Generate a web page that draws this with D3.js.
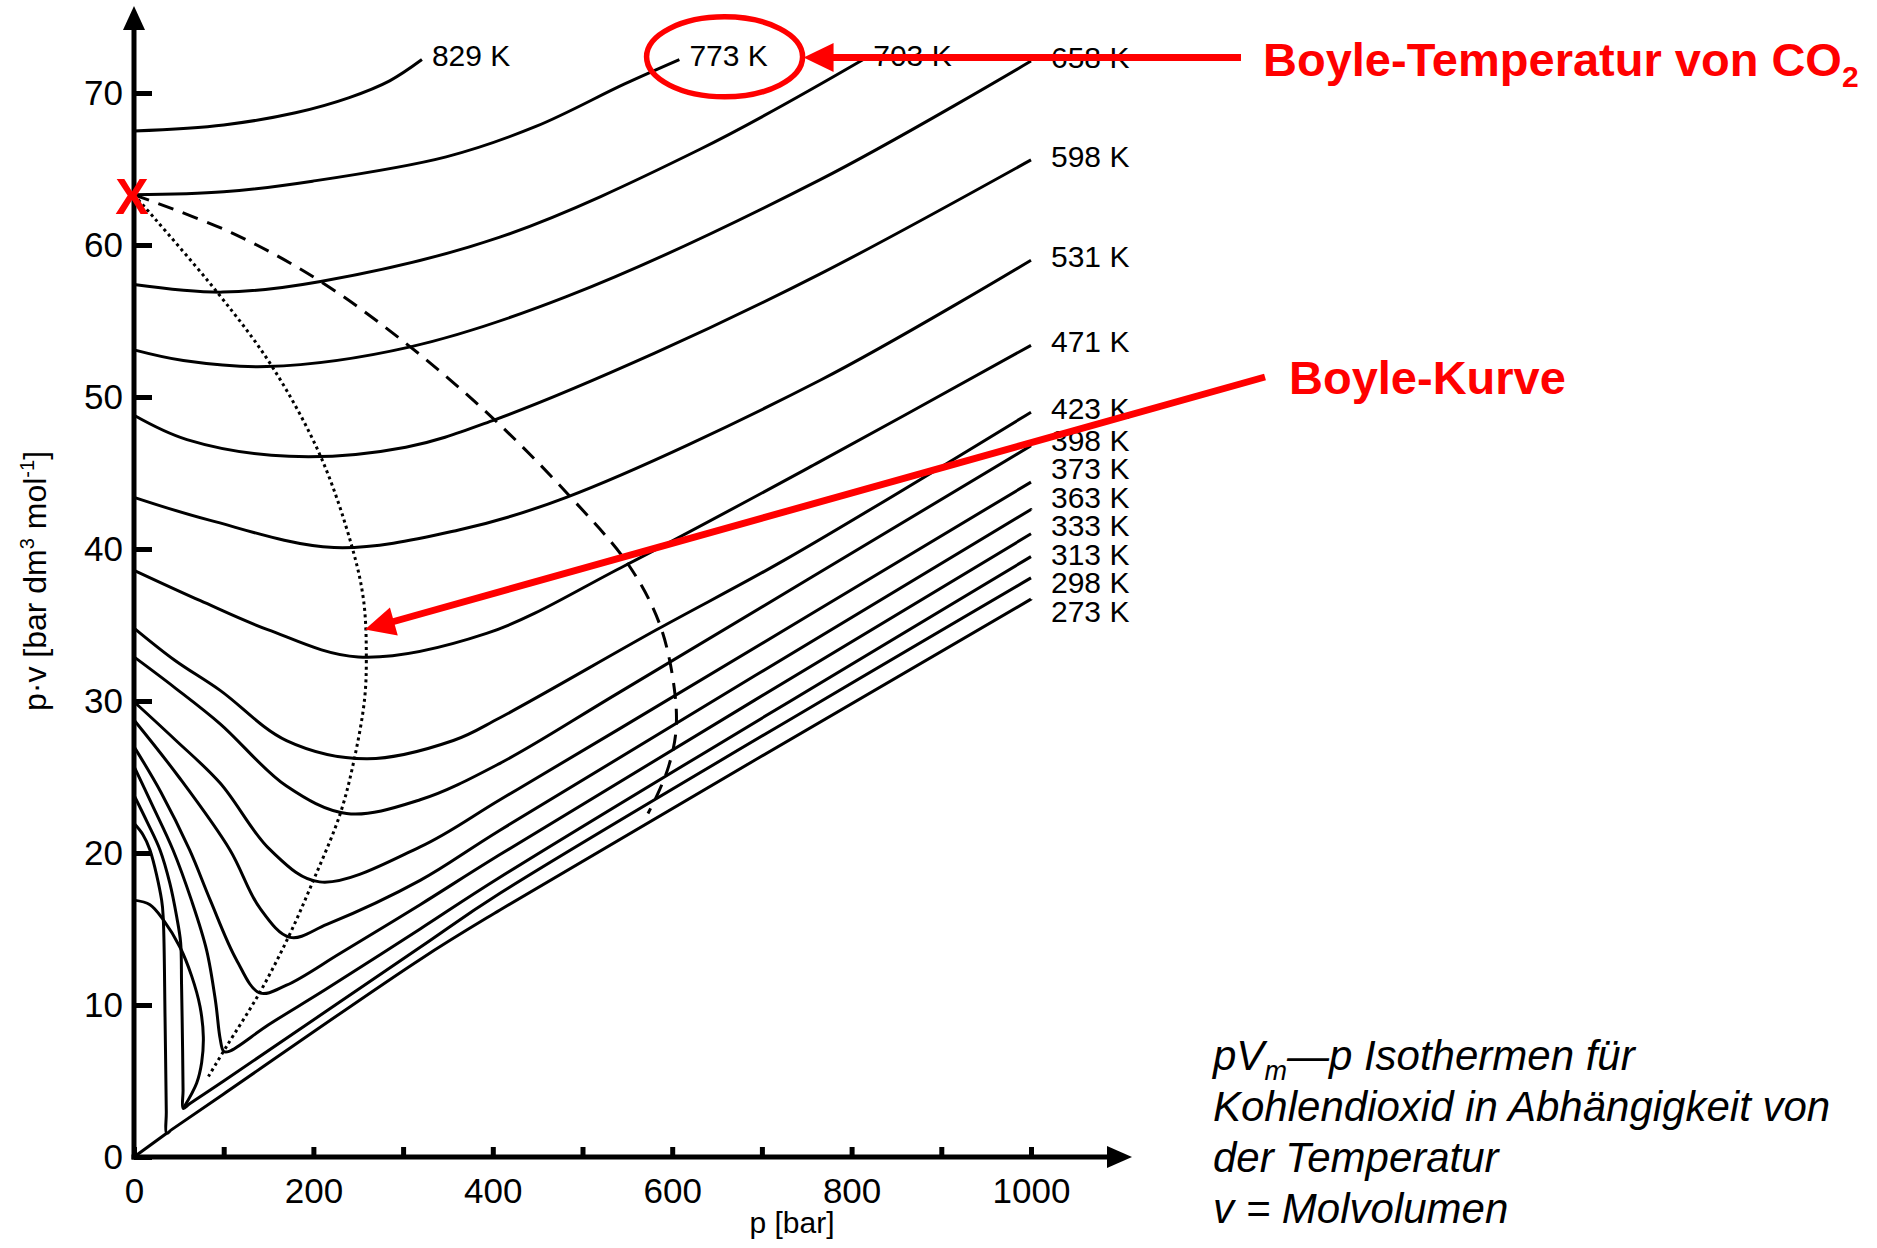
<!DOCTYPE html>
<html>
<head>
<meta charset="utf-8">
<script src="https://cdn.jsdelivr.net/npm/d3@7"></script>
<style>
  body { margin: 0; background: #fff; }
  svg { display: block; font-family: "Liberation Sans", Arial, sans-serif; }
</style>
</head>
<body>
<div id="chart"></div>
<script>
// isotherms of CO2: [p in bar, p*v in bar dm3/mol]
const temps = [829, 773, 703, 658, 598, 531, 471, 423, 398, 373, 363, 333, 313, 298, 273];

const iso829 = [[0, 67.5], [100, 67.9], [180, 68.7], [240, 69.7], [285, 70.8], [321, 72.2]];
const iso773 = [[0, 63.3], [100, 63.5], [199, 64.2], [348, 65.8], [448, 67.8], [547, 70.6], [608, 72.2]];
const iso703 = [[0, 57.4], [99, 56.9], [208, 57.6], [407, 60.5], [631, 66.3], [813, 72.2]];
const iso658 = [[0, 53.1], [55, 52.4], [148, 52.0], [308, 53.3], [482, 56.6], [765, 64.3], [1000, 72.1]];
const iso598 = [[0, 48.8], [59, 47.2], [173, 46.1], [303, 46.7], [402, 48.5], [581, 52.9], [765, 58.1], [1000, 65.6]];
const iso531 = [[0, 43.4], [84, 41.9], [223, 40.1], [362, 41.25], [482, 43.4], [765, 51.1], [1000, 59.0]];
const iso471 = [[0, 38.6], [74, 36.6], [149, 34.7], [250, 32.9], [393, 34.45], [547, 38.9], [760, 45.6], [1000, 53.4]];
const iso423 = [[0, 34.8], [45, 32.7], [96, 30.7], [170, 27.4], [259, 26.2], [356, 27.4], [408, 28.9], [583, 34.7], [726, 39.3], [1000, 49.0]];
const iso398 = [[0, 32.9], [45, 30.9], [96, 28.5], [170, 24.4], [237, 22.6], [319, 23.5], [408, 25.9], [542, 30.6], [1000, 46.8]];
const iso373 = [[0, 29.95], [45, 27.5], [96, 24.6], [152, 20.2], [207, 18.1], [319, 20.4], [408, 23.5], [542, 28.2], [1000, 44.4]];
const iso363 = [[0, 28.75], [50, 25.0], [107, 20.2], [140, 16.4], [174, 14.45], [215, 15.3], [319, 18.2], [408, 21.5], [1000, 42.6]];
const iso333 = [[0, 27.0], [30, 24.0], [62, 20.2], [85, 16.9], [114, 13.0], [140, 10.8], [170, 11.3], [230, 13.4], [319, 16.6], [408, 19.9], [1000, 41.0]];
const iso313 = [[0, 25.7], [20, 23.2], [43.5, 20.2], [64, 16.9], [81, 13.6], [91, 10.2], [96, 7.8], [100, 6.95], [106, 6.95], [150, 8.7], [213, 11.0], [319, 15.0], [408, 18.4], [1000, 39.5]];
const iso298 = [[0, 23.8], [15, 22.0], [29, 20.2], [40, 18.0], [47.6, 15.8], [52, 14.1], [53, 11.4], [54.2, 7.0], [54.7, 4.4], [54.9, 3.2], [62, 3.5], [100, 5.0], [319, 13.8], [408, 17.35], [1000, 38.1]];
const iso273 = [[0, 21.95], [10, 21.2], [17.8, 20.2], [30.8, 16.9], [32.7, 15.6], [34.6, 9.2], [36.0, 3.0], [36.4, 1.56], [42, 1.8], [100, 4.15], [319, 13.0], [408, 16.25], [1000, 36.7]];

// two-phase boundary and the liquid line from the origin
const phaseDome = [[0, 16.9], [17.8, 16.6], [32.7, 15.6], [51.3, 13.8], [64.3, 11.9], [73.6, 9.9], [77.3, 7.9], [75.4, 6.2], [69.8, 4.85], [55.5, 3.25]];
const liquidLine = [[0, 0], [36.4, 1.56]];

// Boyle curve (dotted) and the dashed curve
const boyleCurve = [[0, 63.3], [94, 56.8], [154, 52.0], [208, 46.1], [243, 40.15], [256, 36.6], [259, 32.9], [257, 30.1], [246, 26.3], [230, 22.6], [200, 18.2], [172, 14.45], [140, 10.8], [103, 7.26], [83, 5.3]];
const dashedCurve = [[0, 63.3], [109, 60.8], [208, 57.6], [308, 53.3], [402, 48.5], [487, 43.4], [552, 38.9], [587, 34.9], [603, 30.5], [604, 27.9], [596, 25.7], [584, 23.9], [573, 22.6]];

const xTicks = [0, 100, 200, 300, 400, 500, 600, 700, 800, 900, 1000];
const yTicks = [0, 10, 20, 30, 40, 50, 60, 70];
const boyleTemp = 773;
const boyleArrowPoint = [257.5, 34.7];

const isotherms = temps.map((t, i) => ({
  T: t,
  pts: [iso829, iso773, iso703, iso658, iso598, iso531, iso471, iso423, iso398, iso373, iso363, iso333, iso313, iso298, iso273][i],
}));

function drawChart(id) {
  const w = 1877;
  const h = 1248;

  const svg = d3
    .select(`#${id}`)
    .append("svg")
    .attr("width", w)
    .attr("height", h)
    .attr("viewBox", [0, 0, w, h]);

  const x = d3.scaleLinear().domain([0, 1000]).range([134, 1031]);
  const y = d3.scaleLinear().domain([0, 70]).range([1157, 93]);

  const line = d3
    .line()
    .x((d) => x(d[0]))
    .y((d) => y(d[1]))
    .curve(d3.curveCatmullRom.alpha(0.5));

  // isotherms
  svg
    .append("g")
    .selectAll("path")
    .data(isotherms)
    .enter()
    .append("path")
    .attr("d", (d) => line(d.pts))
    .attr("fill", "none")
    .attr("stroke", "#000")
    .attr("stroke-width", 3);

  // phase boundary
  svg
    .append("g")
    .selectAll("path")
    .data([phaseDome, liquidLine])
    .enter()
    .append("path")
    .attr("d", line)
    .attr("fill", "none")
    .attr("stroke", "#000")
    .attr("stroke-width", 3);

  svg
    .append("path")
    .attr("d", line(dashedCurve))
    .attr("fill", "none")
    .attr("stroke", "#000")
    .attr("stroke-width", 3)
    .attr("stroke-dasharray", "16,10");

  svg
    .append("path")
    .attr("d", line(boyleCurve))
    .attr("fill", "none")
    .attr("stroke", "#000")
    .attr("stroke-width", 3)
    .attr("stroke-dasharray", "3,3.5");

  // axes
  const yAxis = d3
    .axisLeft(y)
    .tickValues(yTicks)
    .tickSizeInner(-18)
    .tickSizeOuter(0)
    .tickPadding(11);
  const xAxis = d3
    .axisBottom(x)
    .tickValues(xTicks)
    .tickSizeInner(-10)
    .tickSizeOuter(0)
    .tickPadding(21)
    .tickFormat((d) => (d % 200 === 0 ? d : ""));

  const gy = svg.append("g").attr("transform", `translate(${x(0)},0)`).call(yAxis);
  const gx = svg.append("g").attr("transform", `translate(0,${y(0)})`).call(xAxis);
  [gx, gy].forEach((g) => {
    g.select(".domain").remove();
    g.selectAll(".tick line").attr("stroke", "#000").attr("stroke-width", 5);
    g.selectAll(".tick text")
      .attr("font-size", 35)
      .attr("font-family", "Liberation Sans, Arial, sans-serif")
      .attr("fill", "#000");
  });

  // axis lines with arrows
  svg
    .append("line")
    .attr("x1", x(0)).attr("y1", y(0) + 2.5)
    .attr("x2", x(0)).attr("y2", 22)
    .attr("stroke", "#000").attr("stroke-width", 5);
  svg
    .append("path")
    .attr("d", `M${x(0)},6 L${x(0) - 11},30 L${x(0) + 11},30 Z`)
    .attr("fill", "#000");
  svg
    .append("line")
    .attr("x1", x(0) - 2.5).attr("y1", y(0))
    .attr("x2", 1112).attr("y2", y(0))
    .attr("stroke", "#000").attr("stroke-width", 5);
  svg
    .append("path")
    .attr("d", `M1132,${y(0)} L1107,${y(0) - 11} L1107,${y(0) + 11} Z`)
    .attr("fill", "#000");

  // axis titles
  const yt = svg
    .append("text")
    .attr("transform", "translate(46,581) rotate(-90)")
    .attr("text-anchor", "middle")
    .attr("font-size", 32)
    .attr("fill", "#000");
  yt.append("tspan").text("p·v [bar dm");
  yt.append("tspan").attr("font-size", 20).attr("dy", -12).text("3");
  yt.append("tspan").attr("dy", 12).text(" mol");
  yt.append("tspan").attr("font-size", 20).attr("dy", -12).text("-1");
  yt.append("tspan").attr("dy", 12).text("]");

  svg
    .append("text")
    .attr("x", 792)
    .attr("y", 1233)
    .attr("text-anchor", "middle")
    .attr("font-size", 30)
    .attr("fill", "#000")
    .text("p [bar]");

  // temperature labels
  const labels = isotherms.map((d) => {
    const end = d.pts[d.pts.length - 1];
    const right = end[0] >= 990;
    return {
      T: d.T,
      right: right,
      lx: right ? x(1000) + 20 : x(end[0]) + 10,
      ly: y(end[1]) - 4,
    };
  });
  const col = labels.filter((d) => d.right).sort((a, b) => a.ly - b.ly);
  for (let k = 0; k < 300; k++) {
    let moved = false;
    for (let i = 1; i < col.length; i++) {
      const gap = col[i].ly - col[i - 1].ly;
      if (gap < 28.5) {
        const s = (28.5 - gap) / 2;
        col[i - 1].ly -= s;
        col[i].ly += s;
        moved = true;
      }
    }
    if (!moved) break;
  }

  const lbl = svg
    .append("g")
    .selectAll("text")
    .data(labels)
    .enter()
    .append("text")
    .attr("x", (d) => d.lx)
    .attr("y", (d) => d.ly)
    .attr("dy", "0.36em")
    .attr("font-size", 30)
    .attr("fill", "#000")
    .text((d) => `${d.T} K`);

  // red annotations
  const red = "#ff0000";
  const boyleLbl = lbl.filter((d) => d.T === boyleTemp).node().getBBox();
  const ex = boyleLbl.x + boyleLbl.width / 2 - 4;
  const ey = boyleLbl.y + boyleLbl.height / 2 + 1;
  svg
    .append("ellipse")
    .attr("cx", ex).attr("cy", ey)
    .attr("rx", 78).attr("ry", 40)
    .attr("fill", "none")
    .attr("stroke", red)
    .attr("stroke-width", 5.5);

  function arrow(x1, y1, x2, y2) {
    const dx = x2 - x1;
    const dy = y2 - y1;
    const len = Math.hypot(dx, dy);
    const ux = dx / len;
    const uy = dy / len;
    const hl = 30;
    const hw = 14.5;
    const bx = x2 - ux * hl;
    const by = y2 - uy * hl;
    svg
      .append("line")
      .attr("x1", x1).attr("y1", y1)
      .attr("x2", bx + ux * 2).attr("y2", by + uy * 2)
      .attr("stroke", red)
      .attr("stroke-width", 7);
    svg
      .append("path")
      .attr("d", `M${x2},${y2} L${bx - uy * hw},${by + ux * hw} L${bx + uy * hw},${by - ux * hw} Z`)
      .attr("fill", red);
  }

  arrow(1241, 57.5, ex + 78 + 1, 57.5);
  arrow(1265, 377, x(boyleArrowPoint[0]), y(boyleArrowPoint[1]));

  const t1 = svg
    .append("text")
    .attr("x", 1263)
    .attr("y", 76)
    .attr("font-size", 47)
    .attr("font-weight", "bold")
    .attr("fill", red);
  t1.append("tspan").text("Boyle-Temperatur von CO");
  t1.append("tspan").attr("font-size", 30).attr("dy", 11).text("2");

  svg
    .append("text")
    .attr("x", 1289)
    .attr("y", 394)
    .attr("font-size", 47)
    .attr("font-weight", "bold")
    .attr("fill", red)
    .text("Boyle-Kurve");

  svg
    .append("text")
    .attr("x", x(0) - 2)
    .attr("y", y(63.3) + 1)
    .attr("dy", "0.36em")
    .attr("text-anchor", "middle")
    .attr("font-size", 50)
    .attr("font-weight", "bold")
    .attr("fill", red)
    .text("X");

  // caption
  const cap = svg
    .append("text")
    .attr("font-size", 42)
    .attr("font-style", "italic")
    .attr("fill", "#000");
  const c1 = cap.append("tspan").attr("x", 1213).attr("y", 1070);
  c1.append("tspan").text("pV");
  c1.append("tspan").attr("font-size", 27).attr("dy", 10).text("m");
  c1.append("tspan").attr("dy", -10).text("—p Isothermen für");
  cap.append("tspan").attr("x", 1213).attr("y", 1121).text("Kohlendioxid in Abhängigkeit von");
  cap.append("tspan").attr("x", 1213).attr("y", 1172).text("der Temperatur");
  cap.append("tspan").attr("x", 1213).attr("y", 1223).text("v = Molvolumen");
}

document.addEventListener("DOMContentLoaded", function () {
  drawChart("chart");
});
</script>
</body>
</html>
